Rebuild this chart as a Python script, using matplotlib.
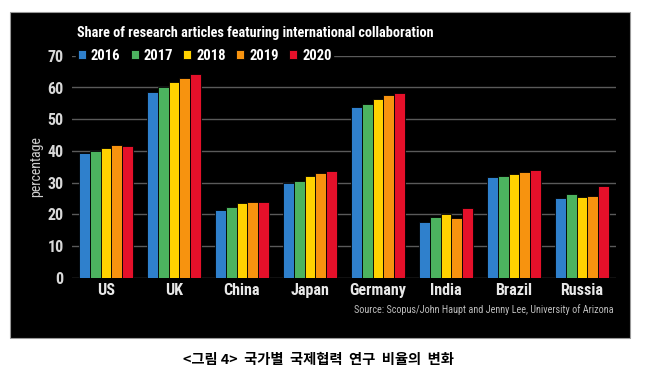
import matplotlib.pyplot as plt
import numpy as np
from matplotlib.patches import Rectangle

countries = ["US", "UK", "China", "Japan", "Germany", "India", "Brazil", "Russia"]
years = ["2016", "2017", "2018", "2019", "2020"]
share_2016 = [39.2, 58.5, 21.4, 30.0, 53.9, 17.7, 31.7, 25.0]
share_2017 = [40.1, 60.2, 22.4, 30.6, 54.9, 19.1, 32.0, 26.3]
share_2018 = [41.0, 61.6, 23.5, 32.1, 56.5, 20.0, 32.8, 25.6]
share_2019 = [41.9, 62.9, 23.9, 32.9, 57.5, 18.7, 33.3, 25.8]
share_2020 = [41.6, 64.3, 24.0, 33.6, 58.2, 21.9, 34.0, 29.0]
yticks = [0, 10, 20, 30, 40, 50, 60, 70]

colors = ["#2f80cc", "#4cb35f", "#ffd200", "#f7930f", "#e5102a"]
series = [share_2016, share_2017, share_2018, share_2019, share_2020]

NARROW = ["Roboto Condensed", "DejaVu Sans"]

fig = plt.figure(figsize=(6.51, 3.79), dpi=100)
fig.patch.set_facecolor("white")

# black panel behind the chart
panel = Rectangle((10 / 651, 41 / 379), 620 / 651, 326 / 379, transform=fig.transFigure,
                  facecolor="black", edgecolor="#999999", linewidth=0.8, zorder=-5)
fig.patches.append(panel)

ax = fig.add_axes([72 / 651, 101.3 / 379, 544 / 651, 221.9 / 379])
ax.set_zorder(2)
ax.patch.set_alpha(0)

x = np.arange(len(countries))
width = 0.79 / len(years)
for i, (vals, c, yr) in enumerate(zip(series, colors, years)):
    ax.bar(x + (i - 2) * width, vals, width, color=c, edgecolor="black",
           linewidth=0.6, label=yr, zorder=3)

ax.set_xlim(-0.5, len(countries) - 0.5)
ax.set_ylim(0, 70)
ax.set_yticks(yticks)
ax.yaxis.grid(True, color="#5a5a5a", linewidth=1.0, zorder=0)
ax.set_axisbelow(True)
for s in ax.spines.values():
    s.set_visible(False)

ax.set_xticks(x)
ax.set_xticklabels(countries, family=NARROW, fontsize=11.5, fontweight="bold", color="#e8e8e8")
ax.tick_params(axis="x", length=0, pad=4)
ax.tick_params(axis="y", length=0, pad=6, labelcolor="#d8d8d8")
for lab in ax.get_yticklabels():
    lab.set_family(NARROW)
    lab.set_fontsize(11.5)
    lab.set_fontweight("bold")

ax.set_ylabel("percentage", family=NARROW, fontsize=10, color="#d0d0d0", labelpad=3)

leg = ax.legend(ncol=5, loc="center left", bbox_to_anchor=(0.008, 1.0), frameon=True,
                handlelength=0.55, handleheight=0.55, handletextpad=0.35, columnspacing=0.7,
                borderpad=0.1, borderaxespad=0,
                prop={"family": NARROW, "size": 10.5, "weight": "bold"})
leg.get_frame().set_facecolor("black")
leg.get_frame().set_edgecolor("black")
leg.get_frame().set_alpha(1)
for t in leg.get_texts():
    t.set_color("white")

fig.text(77 / 651, 346 / 379, "Share of research articles featuring international collaboration",
         family=NARROW, fontsize=10.3, fontweight="bold", color="white", va="center", ha="left")
fig.text(614 / 651, 69 / 379, "Source: Scopus/John Haupt and Jenny Lee, University of Arizona",
         family=NARROW, fontsize=7.3, color="#bdbdbd", va="center", ha="right")

fig.text(318.5 / 651, 19 / 379, "<그림 4>  국가별  국제협력  연구  비율의  변화",
         family=["Noto Sans CJK KR", "DejaVu Sans"], fontsize=10.3, fontweight="bold",
         color="black", va="center", ha="center")

fig.savefig("out.png", dpi=100, facecolor="white")
